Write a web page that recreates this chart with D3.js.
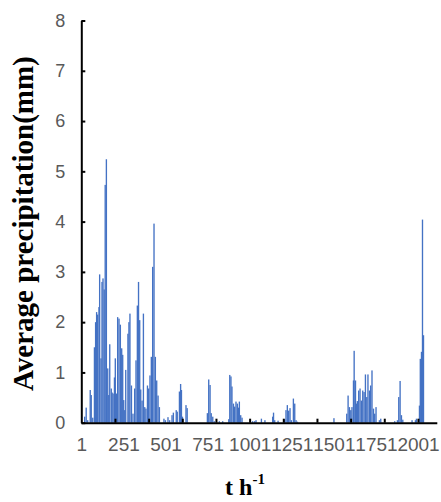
<!DOCTYPE html>
<html>
<head>
<meta charset="utf-8">
<script src="https://cdn.jsdelivr.net/npm/d3@7/dist/d3.min.js"></script>
<style>
  html, body { margin: 0; padding: 0; background: #ffffff; }
  svg { display: block; }
</style>
</head>
<body>
<div id="chart"></div>
<script>
// ---- data (hour index, average precipitation in mm) ----
const hours = [17,26,35,50,56,65,75,82,88,94,102,106,114,120,126,133,139,146,154,160,166,175,180,186,194,199,205,213,221,229,237,243,249,255,261,274,280,286,295,304,314,322,330,337,344,350,358,366,374,381,390,397,405,413,421,429,437,445,453,461,488,497,512,522,536,544,561,567,580,587,592,598,619,626,746,754,762,769,778,787,817,837,873,879,886,892,901,908,916,924,932,936,944,952,1015,1027,1035,1067,1088,1134,1139,1146,1166,1205,1213,1221,1229,1237,1245,1257,1265,1273,1281,1498,1574,1582,1590,1598,1605,1614,1618,1626,1632,1637,1645,1653,1661,1669,1677,1685,1693,1700,1709,1716,1724,1733,1740,1748,1768,1776,1859,1875,1883,1891,1899,1907,1962,1982,1988,2006,2011,2018,2024,2030];
const precipitation = [0.12,0.3,0.05,0.65,0.55,0.1,1.5,2.0,2.2,2.15,2.3,2.95,1.28,2.8,2.87,2.65,4.73,5.24,1.08,0.55,1.56,0.68,0.6,0.58,0.9,1.28,0.58,2.1,2.07,1.95,1.48,1.35,0.45,0.25,1.05,1.77,2.0,2.17,0.74,0.18,0.68,1.24,2.33,2.8,2.04,0.66,0.44,2.17,0.31,0.28,0.74,0.68,0.94,1.31,3.1,3.96,1.31,0.84,0.54,0.31,0.08,0.05,0.11,0.05,0.15,0.2,0.25,0.22,0.62,0.77,0.65,0.12,0.35,0.29,0.19,0.86,0.75,0.19,0.12,0.03,0.03,0.03,0.07,0.95,0.92,0.72,0.38,0.32,0.42,0.38,0.3,0.42,0.15,0.1,0.03,0.03,0.05,0.08,0.05,0.12,0.2,0.05,0.04,0.07,0.25,0.35,0.24,0.29,0.05,0.48,0.38,0.05,0.02,0.09,0.18,0.54,0.31,0.25,0.31,0.84,1.43,0.84,0.38,0.43,0.64,0.68,0.44,0.64,0.61,0.96,0.51,0.96,0.64,0.74,1.04,0.28,0.18,0.31,0.05,0.08,0.03,0.05,0.51,0.83,0.15,0.06,0.05,0.05,0.08,0.34,1.27,1.41,4.04,1.74];
const hourCount = 2112;
const xLabelHours = [1,251,501,751,1001,1251,1501,1751,2001];
const xTickHours = [200,400,600,800,1000,1200,1400,1600,1800,2000];
const yTicks = [0,1,2,3,4,5,6,7,8];
const yTitle = "Average precipitation(mm)";

// ---- layout ----
const W = 441, H = 502;
const svg = d3.select("#chart").append("svg").attr("width", W).attr("height", H);

const x = d3.scaleLinear().domain([0, hourCount]).range([81.3, 436.8]);
const y = d3.scaleLinear().domain([0, 8]).range([422.7, 20.5]);
const barSpan = 8;
const barColor = "#4472C4";

const data = hours.map((h, i) => ({ h: h, v: precipitation[i] }));

// bars
svg.append("g").selectAll("rect").data(data).join("rect")
  .attr("x", d => x(d.h - 1))
  .attr("width", x(barSpan) - x(0))
  .attr("y", d => y(d.v))
  .attr("height", d => y(0) - y(d.v))
  .attr("fill", barColor);

// y axis
const yAxis = d3.axisLeft(y).tickValues(yTicks).tickSizeInner(-4).tickSizeOuter(0).tickPadding(16)
  .tickFormat(d3.format("d"));
const gy = svg.append("g").attr("transform", `translate(${x(0)},0)`).call(yAxis);
gy.select(".domain").attr("stroke", "#000").attr("stroke-width", 2);
gy.selectAll(".tick line").attr("stroke", "#000").attr("stroke-width", 2);
gy.selectAll(".tick text").attr("fill", "#595959")
  .style("font-family", "'Liberation Sans', Arial, sans-serif").style("font-size", "18px");

// x axis: tick marks every 200 hours
const xTickAxis = d3.axisBottom(x).tickValues(xTickHours).tickSizeInner(-4).tickSizeOuter(0).tickFormat("");
const gxt = svg.append("g").attr("transform", `translate(0,${y(0)})`).call(xTickAxis);
gxt.select(".domain").attr("stroke", "#000").attr("stroke-width", 2);
gxt.selectAll(".tick line").attr("stroke", "#000").attr("stroke-width", 2);

// x axis labels, centred on their hour
const xLabelAxis = d3.axisBottom(x).tickValues(xLabelHours.map(h => h - 0.5)).tickSize(0).tickPadding(15)
  .tickFormat((d, i) => String(xLabelHours[i]));
const gxl = svg.append("g").attr("transform", `translate(0,${y(0)})`).call(xLabelAxis);
gxl.select(".domain").remove();
gxl.selectAll(".tick text").attr("fill", "#595959")
  .style("font-family", "'Liberation Sans', Arial, sans-serif").style("font-size", "19px");

// y title
svg.append("text")
  .attr("transform", `translate(33,${(20.5 + 422.7) / 2 + 2}) rotate(-90)`)
  .attr("text-anchor", "middle")
  .style("font-family", "'Liberation Serif', 'Times New Roman', serif")
  .style("font-weight", "bold").style("font-size", "29px").attr("fill", "#000")
  .text(yTitle);

// x title  t h^-1
const xt = svg.append("text")
  .attr("x", 245).attr("y", 495)
  .attr("text-anchor", "middle")
  .style("font-family", "'Liberation Serif', 'Times New Roman', serif")
  .style("font-weight", "bold").style("font-size", "24px").attr("fill", "#000");
xt.append("tspan").text("t h");
xt.append("tspan").attr("dy", -11).style("font-size", "15px").text("-1");
</script>
</body>
</html>
